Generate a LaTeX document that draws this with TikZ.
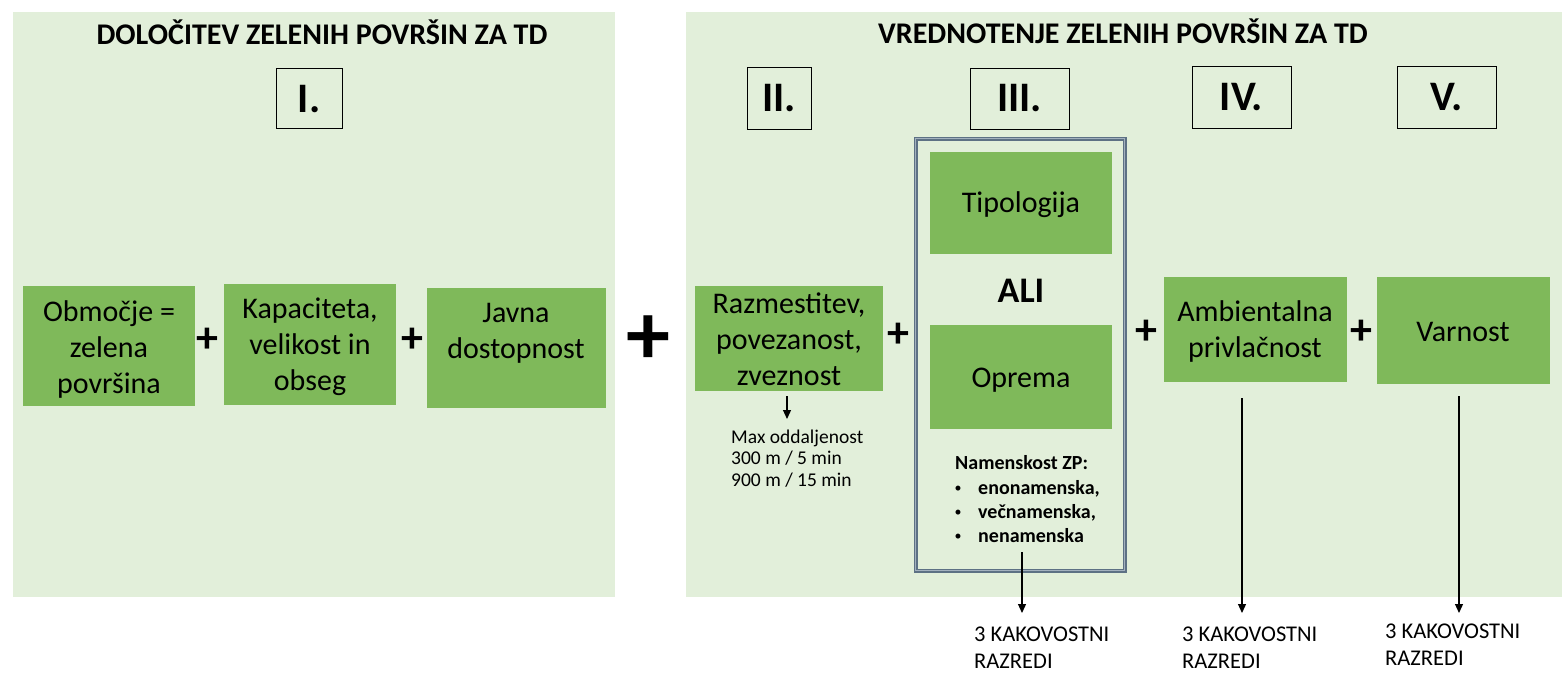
\documentclass[tikz,border=0pt]{standalone}
\usepackage{fontspec}
\setmainfont{Carlito}
\usetikzlibrary{arrows.meta}
\definecolor{panel}{HTML}{E2EFDA}
\definecolor{gfill}{HTML}{7FB95A}
\definecolor{frameblue}{HTML}{5D7184}
\definecolor{framemid}{HTML}{A3B1BE}
\tikzset{
  panelbox/.style={fill=panel, draw=none, anchor=north west, inner sep=0pt},
  gbox/.style={fill=gfill, draw=none, anchor=north west, inner sep=0pt},
  numbox/.style={draw=black, line width=1.3pt, fill=panel, anchor=north west, inner sep=0pt},
  numtxt/.style={font=\fontsize{42}{44}\selectfont\bfseries, anchor=base, inner sep=0pt},
  titletxt/.style={font=\fontsize{30}{36}\selectfont\bfseries, anchor=base, inner sep=0pt},
  btxt/.style={font=\fontsize{30}{36}\selectfont, align=center, anchor=base, inner sep=0pt},
  plussign/.style={font=\fontsize{44}{44}\selectfont\bfseries, inner sep=0pt},
  bigplus/.style={font=\fontsize{88}{88}\selectfont\bfseries, inner sep=0pt},
  smalltxt/.style={font=\fontsize{19.5}{21.5}\selectfont, align=left, anchor=base west, inner sep=0pt},
  listtxt/.style={font=\fontsize{20}{24}\selectfont\bfseries, anchor=base west, inner sep=0pt},
  bullettxt/.style={font=\fontsize{14}{14}\selectfont, anchor=base, inner sep=0pt},
  classtxt/.style={font=\fontsize{22.5}{27}\selectfont, align=left, anchor=base west, inner sep=0pt},
  frame3/.style={draw=frameblue, double=framemid, line width=1.3pt, double distance=1.6pt, anchor=north west, inner sep=0pt},
  arr/.style={line width=1.2pt, -{Triangle[length=9pt,width=8pt]}},
}
\begin{document}
\begin{tikzpicture}[x=1pt,y=-1pt]
\useasboundingbox (0,0) rectangle (1562,677);
\fill[white] (0,0) rectangle (1562,677);

% panels
\node[panelbox, minimum width=602pt, minimum height=585pt] (lp) at (13,12) {};
\node[panelbox, minimum width=876pt, minimum height=585pt] (rp) at (686,12) {};

% titles
\node[titletxt] (tl) at (322,45) {DOLOČITEV ZELENIH POVRŠIN ZA TD};
\node[titletxt] (tr) at (1123,44) {VREDNOTENJE ZELENIH POVRŠIN ZA TD};

% roman numeral boxes
\node[numbox, minimum width=66pt, minimum height=60pt] (n1) at (276,68) {};
\node[numtxt] (n1t) at (309,112) {I.};
\node[numbox, minimum width=64pt, minimum height=62pt] (n2) at (747,67) {};
\node[numtxt] (n2t) at (779,111) {II.};
\node[numbox, minimum width=99pt, minimum height=61pt] (n3) at (970,68) {};
\node[numtxt] (n3t) at (1019.5,111) {III.};
\node[numbox, minimum width=99pt, minimum height=62pt] (n4) at (1192,66) {};
\node[numtxt] (n4t) at (1241.5,110) {IV.};
\node[numbox, minimum width=99pt, minimum height=62pt] (n5) at (1397,66) {};
\node[numtxt] (n5t) at (1446.5,110) {V.};

% left green boxes
\node[gbox, minimum width=172pt, minimum height=120pt] (b1) at (23,286) {};
\node[btxt] (t1) at (109,393) {Območje =\\zelena\\površina};
\node[plussign] (p1) at (207,340) {+};
\node[gbox, minimum width=172pt, minimum height=121pt] (b2) at (224,284) {};
\node[btxt] (t2) at (310,390) {Kapaciteta,\\velikost in\\obseg};
\node[plussign] (p2) at (412,340) {+};
\node[gbox, minimum width=179pt, minimum height=120pt] (b3) at (427,288) {};
\node[btxt] (t3) at (516,358) {Javna\\dostopnost};

\node[bigplus] (pbig) at (648,340) {+};

% right side
\node[gbox, minimum width=188pt, minimum height=105pt] (b4) at (695,286) {};
\node[btxt] (t4) at (789,385) {Razmestitev,\\povezanost,\\zveznost};
\coordinate (a0s) at (787,396);
\coordinate (a0e) at (787,419);
\draw[arr] (a0s) -- (a0e);
\node[smalltxt] (maxt) at (731,486) {Max oddaljenost\\300 m / 5 min\\900 m / 15 min};

\node[plussign] (p3) at (898,335) {+};

\node[frame3, minimum width=209pt, minimum height=432pt] (fr) at (915,138) {};
\node[gbox, minimum width=182pt, minimum height=102pt] (tip) at (930,152) {};
\node[btxt] (tipt) at (1021,212) {Tipologija};
\node[font=\fontsize{36}{40}\selectfont\bfseries, anchor=base, inner sep=0pt] (ali) at (1021,302) {ALI};
\node[gbox, minimum width=182pt, minimum height=104pt] (opr) at (930,325) {};
\node[btxt] (oprt) at (1021,387) {Oprema};
\node[listtxt] (nam) at (955,469) {Namenskost ZP:};
\node[bullettxt] (bu1) at (958,492) {•};
\node[listtxt] (l1) at (978,494) {enonamenska,};
\node[bullettxt] (bu2) at (958,516) {•};
\node[listtxt] (l2) at (978,518) {večnamenska,};
\node[bullettxt] (bu3) at (958,540) {•};
\node[listtxt] (l3) at (978,542) {nenamenska};
\coordinate (a1s) at (1022,552);
\coordinate (a1e) at (1022,613);
\draw[arr] (a1s) -- (a1e);
\node[classtxt] (k3) at (974,668) {3 KAKOVOSTNI\\RAZREDI};

\node[plussign] (p4) at (1146,332) {+};
\node[gbox, minimum width=183pt, minimum height=105pt] (amb) at (1164,277) {};
\node[btxt] (t6) at (1255,357) {Ambientalna\\privlačnost};
\coordinate (a2s) at (1242,398);
\coordinate (a2e) at (1242,613);
\draw[arr] (a2s) -- (a2e);
\node[classtxt] (k4) at (1182,668) {3 KAKOVOSTNI\\RAZREDI};

\node[plussign] (p5) at (1361,332) {+};
\node[gbox, minimum width=173pt, minimum height=107pt] (var) at (1377,277) {};
\node[btxt] (vart) at (1463,341) {Varnost};
\coordinate (a3s) at (1459,396);
\coordinate (a3e) at (1459,613);
\draw[arr] (a3s) -- (a3e);
\node[classtxt] (k5) at (1385,665) {3 KAKOVOSTNI\\RAZREDI};
\end{tikzpicture}
\end{document}
